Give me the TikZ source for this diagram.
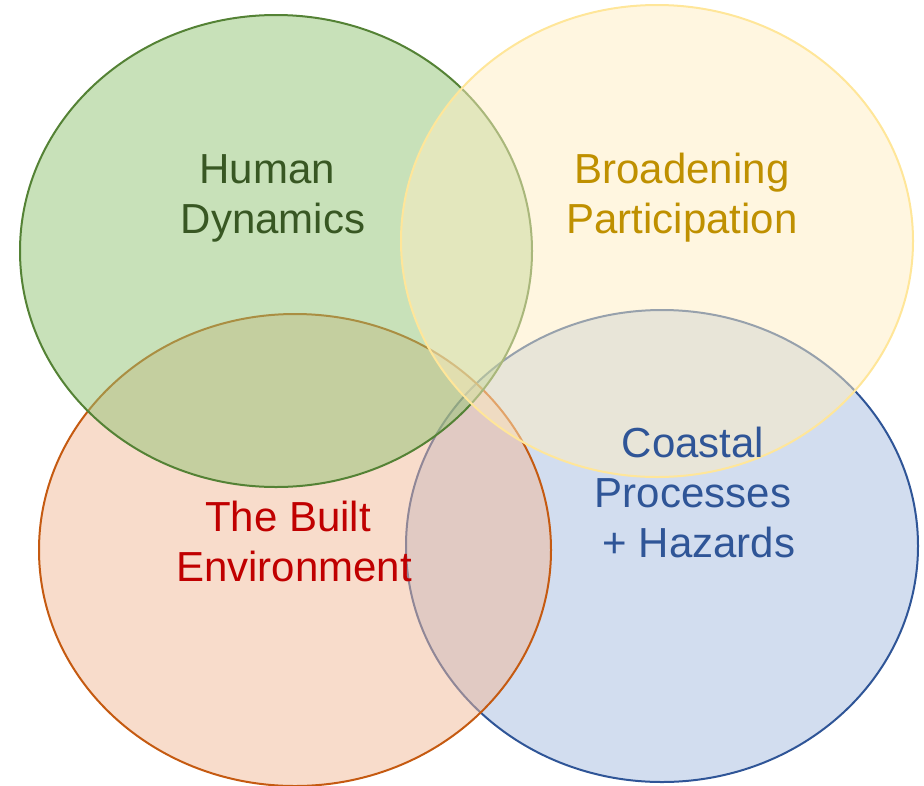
\documentclass[tikz,border=0pt]{standalone}
\usepackage{fontspec}
\setmainfont{Liberation Sans}
\usetikzlibrary{shapes.geometric}

\definecolor{greenfill}{RGB}{145,195,115}
\definecolor{greenline}{RGB}{84,130,53}
\definecolor{greentext}{RGB}{56,87,35}
\definecolor{yellowfill}{RGB}{255,237,193}
\definecolor{yellowline}{RGB}{255,230,153}
\definecolor{yellowtext}{RGB}{191,144,0}
\definecolor{redfill}{RGB}{241,185,151}
\definecolor{redline}{RGB}{197,90,17}
\definecolor{redtext}{RGB}{192,0,0}
\definecolor{bluefill}{RGB}{165,187,223}
\definecolor{blueline}{RGB}{47,85,151}
\definecolor{bluetext}{RGB}{47,85,151}

\begin{document}
\begin{tikzpicture}[x=1pt,
    y=-1pt,
    field/.style={ellipse, draw, line width=2pt, fill opacity=0.5,
        minimum width=512pt, minimum height=472pt, inner sep=0pt},
    label/.style={align=center, font=\fontsize{42}{50}\selectfont}]
    \useasboundingbox (0,0) rectangle (924,785);
    \node[field, draw=blueline, fill=bluefill] (B) at (662,546) {};
    \node[field, draw=redline, fill=redfill] (R) at (295,550) {};
    \node[field, draw=greenline, fill=greenfill] (G) at (276,251) {};
    \node[field, draw=yellowline, fill=yellowfill] (Y) at (657,241) {};
    \node[label, text=greentext] (human) at (273,198) {Human\hphantom{\ }\\Dynamics};
    \node[label, text=yellowtext] (broad) at (682,198) {Broadening\\Participation};
    \node[label, text=redtext] (built) at (294,541) {The Built\hphantom{\ }\\Environment};
    \node[label, text=bluetext] (coast) at (693,492) {Coastal\\Processes\\~+ Hazards};
\end{tikzpicture}
\end{document}
